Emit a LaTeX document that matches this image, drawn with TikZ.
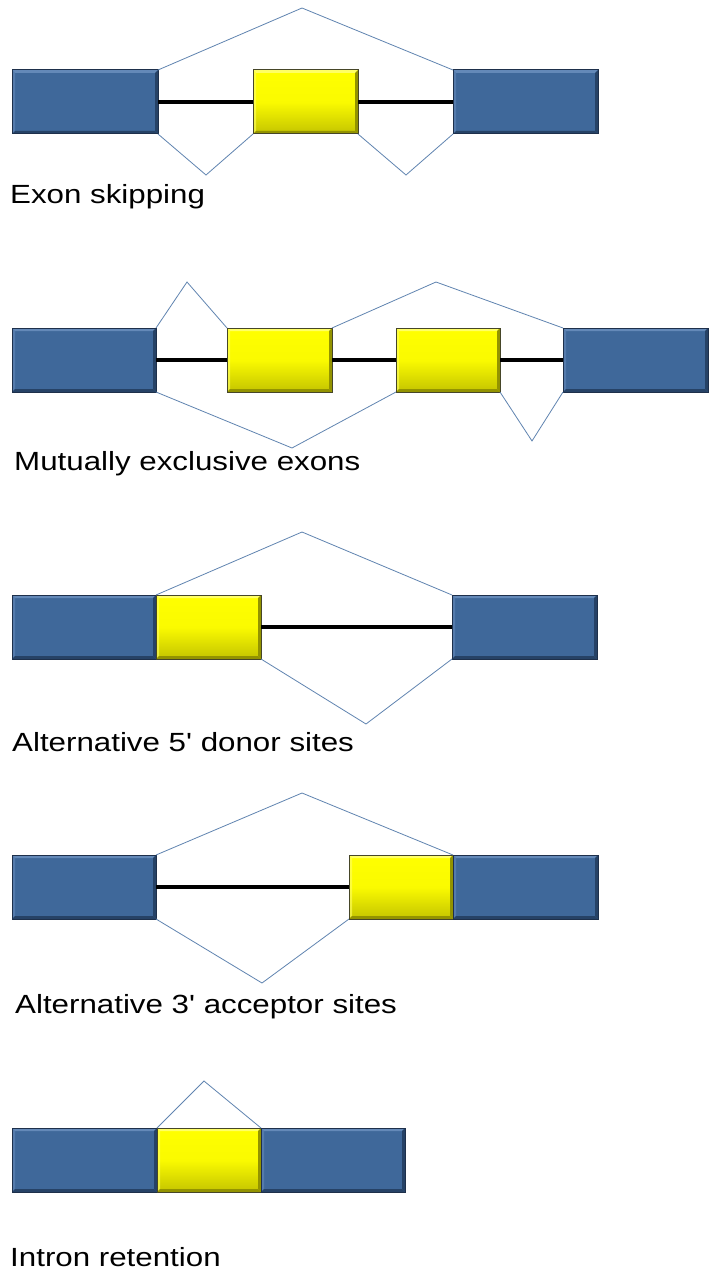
\documentclass[tikz,border=0pt]{standalone}
\usepackage{fontspec}
\newfontfamily\lblfont{Liberation Sans}
\definecolor{exonblue}{RGB}{63,104,154}
\definecolor{bluelight}{RGB}{100,137,184}
\definecolor{bluedark}{RGB}{38,66,102}
\definecolor{blueedge}{RGB}{30,48,75}
\definecolor{connblue}{RGB}{96,132,176}
\definecolor{yelltop}{RGB}{255,255,0}
\definecolor{yellbot}{RGB}{196,196,0}
\definecolor{yedge}{RGB}{70,70,40}
\newcommand{\wlbl}[1]{\scalebox{1.19}[1]{#1}}
\tikzset{
  bev/.style n args={2}{path picture={
    \fill[#1] (path picture bounding box.north west) -- (path picture bounding box.north east)
      -- ([xshift=-3pt,yshift=-3pt]path picture bounding box.north east)
      -- ([xshift=3pt,yshift=-3pt]path picture bounding box.north west) -- cycle;
    \fill[#1,opacity=0.6] (path picture bounding box.north west) -- (path picture bounding box.south west)
      -- ([xshift=3pt,yshift=3pt]path picture bounding box.south west)
      -- ([xshift=3pt,yshift=-3pt]path picture bounding box.north west) -- cycle;
    \fill[#2] (path picture bounding box.south west) -- (path picture bounding box.south east)
      -- ([xshift=-3pt,yshift=3pt]path picture bounding box.south east)
      -- ([xshift=3pt,yshift=3pt]path picture bounding box.south west) -- cycle;
    \fill[#2] (path picture bounding box.north east) -- (path picture bounding box.south east)
      -- ([xshift=-3pt,yshift=3pt]path picture bounding box.south east)
      -- ([xshift=-3pt,yshift=-3pt]path picture bounding box.north east) -- cycle;
  }},
  bluebox/.style={anchor=north west, inner sep=0pt, outer sep=0pt, fill=exonblue,
    draw=blueedge, line width=1pt, minimum height=64pt, bev={bluelight}{bluedark}},
  yellbox/.style={anchor=north west, inner sep=0pt, outer sep=0pt, top color=yelltop,
    bottom color=yellbot, middle color=yelltop!92!yellbot, draw=yedge, line width=1pt, minimum height=64pt,
    bev={yelltop!60!white}{yellbot!75!black}},
  intron/.style={line width=4.5pt, black},
  splice/.style={connblue, line width=0.8pt},
  lbl/.style={anchor=base west, inner sep=0pt, font=\lblfont\fontsize{26.3}{31}\selectfont}
}
\begin{document}
\begin{tikzpicture}[x=1pt,y=-1pt]
\useasboundingbox[fill=white] (0,0) rectangle (715,1279);
% Row 1: exon skipping
\node[bluebox, minimum width=146pt] (a1) at (12,70) {};
\node[yellbox, minimum width=105pt] (a2) at (253,70) {};
\node[bluebox, minimum width=145pt] (a3) at (453,70) {};
\draw[intron] (a1.east) -- (a2.west);
\draw[intron] (a2.east) -- (a3.west);
\coordinate (a4) at (302,8);
\coordinate (a5) at (206,175);
\coordinate (a6) at (406,175);
\draw[splice] (a1.north east) -- (a4) -- (a3.north west);
\draw[splice] (a1.south east) -- (a5) -- (a2.south west);
\draw[splice] (a2.south east) -- (a6) -- (a3.south west);
\node[lbl] (at) at (10,203) {\wlbl{Exon skipping}};
% Row 2: mutually exclusive exons
\node[bluebox, minimum width=144pt] (b1) at (12,328) {};
\node[yellbox, minimum width=105pt] (b2) at (227,328) {};
\node[yellbox, minimum width=104pt] (b3) at (396,328) {};
\node[bluebox, minimum width=145pt] (b4) at (563,328) {};
\draw[intron] (b1.east) -- (b2.west);
\draw[intron] (b2.east) -- (b3.west);
\draw[intron] (b3.east) -- (b4.west);
\coordinate (b5) at (187,282);
\coordinate (b6) at (436,282);
\coordinate (b7) at (292,448);
\coordinate (b8) at (532,441);
\draw[splice] (b1.north east) -- (b5) -- (b2.north west);
\draw[splice] (b2.north east) -- (b6) -- (b4.north west);
\draw[splice] (b1.south east) -- (b7) -- (b3.south west);
\draw[splice] (b3.south east) -- (b8) -- (b4.south west);
\node[lbl] (bt) at (14,470) {\wlbl{Mutually exclusive exons}};
% Row 3: alternative 5' donor sites
\node[bluebox, minimum width=144pt] (c1) at (12,595) {};
\node[yellbox, minimum width=105pt] (c2) at (156,595) {};
\node[bluebox, minimum width=145pt] (c3) at (452,595) {};
\draw[intron] (c2.east) -- (c3.west);
\coordinate (c4) at (302,532);
\coordinate (c5) at (366,724);
\draw[splice] (c1.north east) -- (c4) -- (c3.north west);
\draw[splice] (c2.south east) -- (c5) -- (c3.south west);
\node[lbl] (ct) at (12,751) {\wlbl{Alternative 5' donor sites}};
% Row 4: alternative 3' acceptor sites
\node[bluebox, minimum width=144pt] (d1) at (12,855) {};
\node[yellbox, minimum width=104pt] (d2) at (349,855) {};
\node[bluebox, minimum width=145pt] (d3) at (453,855) {};
\draw[intron] (d1.east) -- (d2.west);
\coordinate (d4) at (302,793);
\coordinate (d5) at (262,983);
\draw[splice] (d1.north east) -- (d4) -- (d3.north west);
\draw[splice] (d1.south east) -- (d5) -- (d2.south west);
\node[lbl] (dt) at (15,1013) {\wlbl{Alternative 3' acceptor sites}};
% Row 5: intron retention
\node[bluebox, minimum width=145pt] (e1) at (12,1128) {};
\node[yellbox, minimum width=104pt] (e2) at (157,1128) {};
\node[bluebox, minimum width=144pt] (e3) at (261,1128) {};
\coordinate (e4) at (204,1081);
\draw[splice] (e2.north west) -- (e4) -- (e2.north east);
\node[lbl] (et) at (10,1266) {\wlbl{Intron retention}};
\end{tikzpicture}
\end{document}
